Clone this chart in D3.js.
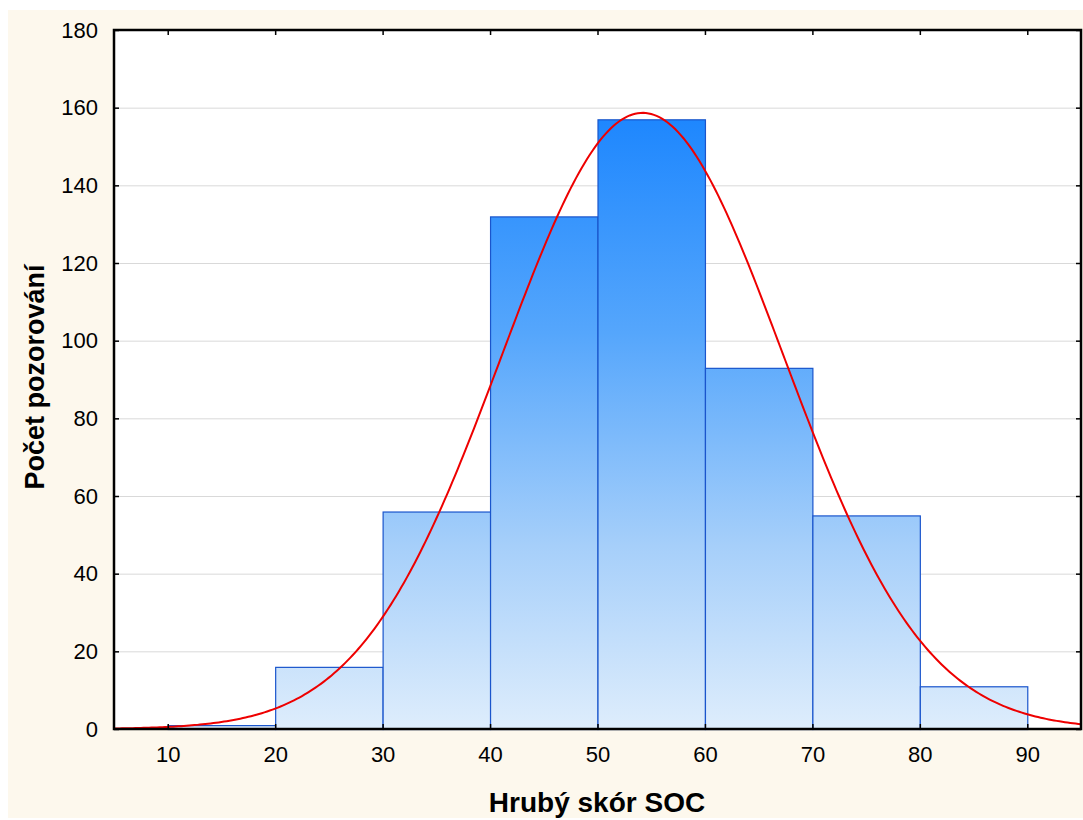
<!DOCTYPE html>
<html>
<head>
<meta charset="utf-8">
<script src="https://cdn.jsdelivr.net/npm/d3@7"></script>
<style>
  html, body { margin: 0; padding: 0; background: #ffffff; }
  svg { display: block; }
  text { font-family: "Liberation Sans", Arial, sans-serif; fill: #000; }
</style>
</head>
<body>
<svg id="chart" width="1083" height="820"></svg>
<script>
// Histogram bins of the raw SOC score (lower edge, upper edge, count)
const binStarts = [10, 20, 30, 40, 50, 60, 70, 80];
const binEnds   = [20, 30, 40, 50, 60, 70, 80, 90];
const counts    = [1, 16, 56, 132, 157, 93, 55, 11];

// Fitted normal distribution parameters
const fitMean = 54.2;
const fitSd = 13.1;

const xTicks = [10, 20, 30, 40, 50, 60, 70, 80, 90];
const yTicks = [0, 20, 40, 60, 80, 100, 120, 140, 160, 180];

const xTitle = "Hrubý skór SOC";
const yTitle = "Počet pozorování";

const svg = d3.select("#chart");
const W = 1083, H = 820;
const margin = { left: 114, top: 30, right: 1081, bottom: 729 };

// page background
svg.append("rect").attr("x", 8).attr("y", 10).attr("width", W - 8).attr("height", 808)
  .attr("fill", "#fdf8ed");

const x = d3.scaleLinear().domain([5, 95]).range([margin.left, margin.right]);
const y = d3.scaleLinear().domain([0, 180]).range([margin.bottom, margin.top]);

// plot area
svg.append("rect")
  .attr("x", margin.left).attr("y", margin.top)
  .attr("width", margin.right - margin.left).attr("height", margin.bottom - margin.top)
  .attr("fill", "#ffffff");

// horizontal gridlines
svg.append("g")
  .selectAll("line")
  .data(yTicks.filter(d => d > 0 && d < 180))
  .join("line")
  .attr("x1", margin.left).attr("x2", margin.right)
  .attr("y1", d => y(d) + 0.5).attr("y2", d => y(d) + 0.5)
  .attr("stroke", "#d9d9d9").attr("stroke-width", 1);

// vertical gradient shared by all bars
const defs = svg.append("defs");
const grad = defs.append("linearGradient")
  .attr("id", "barFill")
  .attr("gradientUnits", "userSpaceOnUse")
  .attr("x1", 0).attr("x2", 0)
  .attr("y1", y(d3.max(counts))).attr("y2", y(0));
grad.append("stop").attr("offset", "0%").attr("stop-color", "#1e87fe");
grad.append("stop").attr("offset", "35%").attr("stop-color", "#55a6fc");
grad.append("stop").attr("offset", "70%").attr("stop-color", "#a6cffa");
grad.append("stop").attr("offset", "100%").attr("stop-color", "#deedfc");

const bins = counts.map((c, i) => ({ x0: binStarts[i], x1: binEnds[i], n: c }));

svg.append("g")
  .selectAll("rect")
  .data(bins)
  .join("rect")
  .attr("x", d => x(d.x0) + 0.5)
  .attr("y", d => y(d.n) + 0.5)
  .attr("width", d => x(d.x1) - x(d.x0))
  .attr("height", d => y(0) - y(d.n))
  .attr("fill", "url(#barFill)")
  .attr("stroke", "#1a55cc")
  .attr("stroke-width", 1.2);

// fitted normal curve scaled to counts per bin
const total = d3.sum(counts);
const binWidth = 10;
const normal = v => total * binWidth / (fitSd * Math.sqrt(2 * Math.PI)) *
  Math.exp(-0.5 * Math.pow((v - fitMean) / fitSd, 2));
const curvePts = d3.range(5, 95.01, 0.25).map(v => [v, normal(v)]);

const clip = defs.append("clipPath").attr("id", "plotClip");
clip.append("rect").attr("x", margin.left).attr("y", margin.top)
  .attr("width", margin.right - margin.left).attr("height", margin.bottom - margin.top);

svg.append("path")
  .datum(curvePts)
  .attr("clip-path", "url(#plotClip)")
  .attr("d", d3.line().x(d => x(d[0])).y(d => y(d[1])).curve(d3.curveLinear))
  .attr("fill", "none")
  .attr("stroke", "#ee0000")
  .attr("stroke-width", 2);

// axes: ticks pointing inward on all four sides
const axisStyle = g => {
  g.select(".domain").remove();
  g.selectAll(".tick line").attr("stroke", "#000").attr("stroke-width", 1.5);
};

svg.append("g")
  .attr("transform", `translate(0,${margin.bottom})`)
  .call(d3.axisBottom(x).tickValues(xTicks).tickSize(-5).tickPadding(17).tickFormat(d3.format("d")))
  .call(axisStyle)
  .call(g => g.selectAll("text").attr("font-size", 22).attr("font-family", "Liberation Sans, Arial, sans-serif").attr("fill", "#000"));

svg.append("g")
  .attr("transform", `translate(0,${margin.top})`)
  .call(d3.axisTop(x).tickValues(xTicks).tickSize(-5).tickFormat(""))
  .call(axisStyle);

svg.append("g")
  .attr("transform", `translate(${margin.left},0)`)
  .call(d3.axisLeft(y).tickValues(yTicks).tickSize(-5).tickPadding(16).tickFormat(d3.format("d")))
  .call(axisStyle)
  .call(g => g.selectAll("text").attr("font-size", 22).attr("font-family", "Liberation Sans, Arial, sans-serif").attr("fill", "#000"));

svg.append("g")
  .attr("transform", `translate(${margin.right},0)`)
  .call(d3.axisRight(y).tickValues(yTicks).tickSize(-5).tickFormat(""))
  .call(axisStyle);

// frame
svg.append("rect")
  .attr("x", margin.left).attr("y", margin.top)
  .attr("width", margin.right - margin.left).attr("height", margin.bottom - margin.top)
  .attr("fill", "none").attr("stroke", "#000").attr("stroke-width", 2.5);

// axis titles
svg.append("text")
  .attr("x", 597)
  .attr("y", 812)
  .attr("text-anchor", "middle")
  .attr("font-size", 28).attr("font-weight", "bold")
  .text(xTitle);

svg.append("text")
  .attr("transform", `translate(44,${377}) rotate(-90)`)
  .attr("text-anchor", "middle")
  .attr("font-size", 27).attr("font-weight", "bold")
  .text(yTitle);
</script>
</body>
</html>
